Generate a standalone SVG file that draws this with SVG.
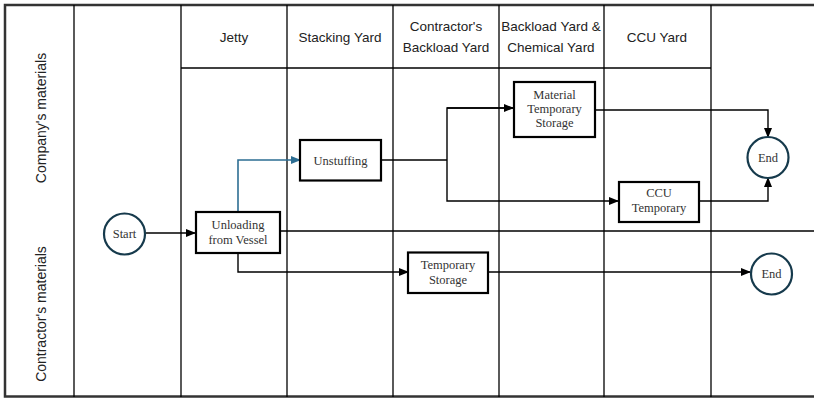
<svg xmlns="http://www.w3.org/2000/svg" width="814" height="398" viewBox="0 0 814 398">
<defs>
<marker id="arr" markerWidth="10" markerHeight="8" refX="9" refY="4" orient="auto" markerUnits="userSpaceOnUse"><path d="M0,0 L10,4 L0,8 Z" fill="#000"/></marker>
<marker id="arrb" markerWidth="10" markerHeight="8" refX="9" refY="4" orient="auto" markerUnits="userSpaceOnUse"><path d="M0,0 L10,4 L0,8 Z" fill="#2d6e93"/></marker>
<style>
.grid{stroke:#000;stroke-width:1.3;fill:none}
.hdr{font-family:"Liberation Sans",Arial,sans-serif;font-size:13.5px;fill:#222;text-anchor:middle}
.lane{font-family:"Liberation Sans",Arial,sans-serif;font-size:14px;fill:#222;text-anchor:middle}
.box{fill:#fff;stroke:#000;stroke-width:2.2}
.circ{fill:#fff;stroke:#163a4c;stroke-width:2.2}
.lbl{font-family:"Liberation Serif","Times New Roman",serif;font-size:12.5px;fill:#333;text-anchor:middle}
.con{fill:none;stroke:#000;stroke-width:1.4}
.conb{fill:none;stroke:#2d6e93;stroke-width:1.6}
</style>
</defs>
<rect width="814" height="398" fill="#fff"/>
<g id="grid">
<rect x="5" y="5" width="812" height="391.5" fill="none" stroke="#333" stroke-width="2.5"/>
<line class="grid" x1="74" y1="5" x2="74" y2="397"/>
<line class="grid" x1="181" y1="5" x2="181" y2="397"/>
<line class="grid" x1="287" y1="5" x2="287" y2="397"/>
<line class="grid" x1="393" y1="5" x2="393" y2="397"/>
<line class="grid" x1="499" y1="5" x2="499" y2="397"/>
<line class="grid" x1="604" y1="5" x2="604" y2="397"/>
<line class="grid" x1="711" y1="5" x2="711" y2="397"/>
<line class="grid" x1="181" y1="68" x2="711" y2="68"/>
<line class="grid" x1="280" y1="231" x2="814" y2="231"/>
</g>
<g id="headers">
<text class="hdr" x="234" y="42">Jetty</text>
<text class="hdr" x="340" y="42">Stacking Yard</text>
<text class="hdr" x="446" y="31">Contractor's</text>
<text class="hdr" x="446" y="52">Backload Yard</text>
<text class="hdr" x="551" y="31">Backload Yard &amp;</text>
<text class="hdr" x="551" y="52">Chemical Yard</text>
<text class="hdr" x="657" y="42">CCU Yard</text>
</g>
<g id="lanes">
<text class="lane" transform="translate(46,118) rotate(-90)">Company's materials</text>
<text class="lane" transform="translate(46,314) rotate(-90)">Contractor's materials</text>
</g>
<g id="connectors">
<line class="con" x1="146" y1="233" x2="195" y2="233" marker-end="url(#arr)"/>
<polyline class="conb" points="238,211 238,160 300,160" marker-end="url(#arrb)"/>
<line class="con" x1="381" y1="160" x2="447" y2="160" stroke-width="2"/>
<polyline class="con" points="513,108 447,108 447,201 618,201" marker-end="url(#arr)"/>
<line class="con" x1="447" y1="108" x2="513" y2="108" marker-end="url(#arr)"/>
<polyline class="con" points="595,110 768,110 768,137" marker-end="url(#arr)"/>
<polyline class="con" points="699,201 768,201 768,178" marker-end="url(#arr)"/>
<polyline class="con" points="238,253 238,272 408,272" marker-end="url(#arr)"/>
<line class="con" x1="488" y1="272" x2="750" y2="272" marker-end="url(#arr)"/>
</g>
<g id="start"><circle class="circ" cx="124.5" cy="234" r="20.5"/><text class="lbl" x="124.5" y="238">Start</text></g>
<g id="unloading"><rect class="box" x="196" y="212" width="84" height="41"/><text class="lbl" x="238" y="229">Unloading</text><text class="lbl" x="238" y="244">from Vessel</text></g>
<g id="unstuffing"><rect class="box" x="300" y="140" width="81" height="40.5"/><text class="lbl" x="340.5" y="165">Unstuffing</text></g>
<g id="material-temp"><rect class="box" x="514" y="82" width="81" height="55"/><text class="lbl" x="554.5" y="99">Material</text><text class="lbl" x="554.5" y="113">Temporary</text><text class="lbl" x="554.5" y="127">Storage</text></g>
<g id="ccu-temp"><rect class="box" x="619" y="182" width="80" height="40"/><text class="lbl" x="659" y="197">CCU</text><text class="lbl" x="659" y="212">Temporary</text></g>
<g id="temp-storage"><rect class="box" x="408" y="252.5" width="80" height="40.5"/><text class="lbl" x="448" y="269">Temporary</text><text class="lbl" x="448" y="284">Storage</text></g>
<g id="end1"><circle class="circ" cx="768" cy="157.5" r="20.5"/><text class="lbl" x="768" y="162">End</text></g>
<g id="end2"><circle class="circ" cx="771.5" cy="274" r="20.5"/><text class="lbl" x="771.5" y="278">End</text></g>
</svg>
